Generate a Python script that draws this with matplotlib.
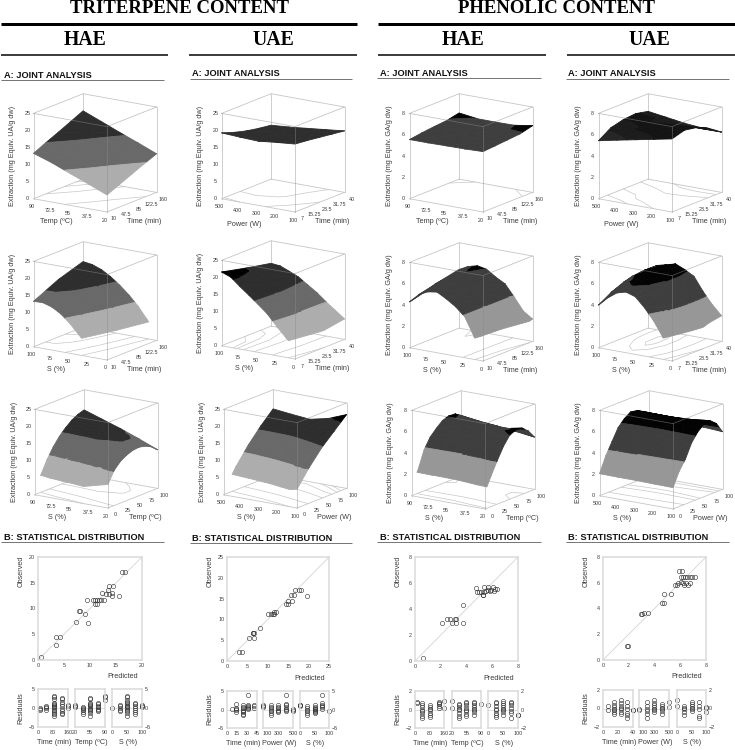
import numpy as np
import matplotlib
matplotlib.use("Agg")
import matplotlib.pyplot as plt
from matplotlib.lines import Line2D
from mpl_toolkits.mplot3d import proj3d
from mpl_toolkits.mplot3d.art3d import Poly3DCollection

W, H = 735, 750
plt.rcParams['font.family'] = ['Liberation Sans', 'DejaVu Sans']

# surfaces: rows go from the left corner to the front corner, columns from the front edge to the back
tri_hae_1 = [[13.3, 15, 16.6, 18.3, 20], [11.5, 13.2, 14.7, 16.2, 17.8], [9.3, 11, 12.5, 14, 15.6],
             [7.2, 8.8, 10.3, 11.8, 13.5], [5, 6.6, 8.2, 9.8, 11.3]]
tri_hae_2 = [[13.3, 16.8, 19.2], [13.4, 16.6, 18.8], [12.6, 15.6, 17.8], [11, 14, 16.2], [8.6, 11.8, 14.2],
             [5.7, 9.2, 11.8], [2.6, 6, 9], [-.5, 2.8, 5.5], [-3, 0, 2]]
tri_hae_3 = [[2.5, 5, 8.8, 11.8, 14.2, 16, 17.5, 18.5, 19.1], [3.2, 6.4, 9.7, 12.4, 14.5, 16, 17, 17.4, 17.3],
             [4, 7.8, 10.6, 13, 14.8, 16, 16.6, 16.3, 15.5], [5.5, 9.2, 11.7, 13.2, 14.5, 15.2, 15.3, 14.7, 13.5],
             [6.9, 10.3, 12.2, 13.3, 14, 14.2, 13.8, 12.9, 11.3]]
tri_uae_1 = [[19.3, 18, 17, 16.3, 15.8], [19, 17.8, 16.9, 16.4, 16.2], [18.8, 18, 17.3, 17, 16.8],
             [19.4, 18.8, 18.2, 17.8, 17.4], [19.9, 19.5, 19, 18.5, 18]]
tri_uae_2 = [[21.6, 19.9, 18.4], [20.6, 19.6, 18.1], [18.3, 18.4, 17], [16.2, 16.6, 15.8], [14, 14.6, 14],
             [11.7, 12.4, 12.2], [8.6, 9.8, 10], [5.8, 7.2, 8], [3, 4.8, 6]]
tri_uae_3 = [[1, 6.8, 11.7, 15.8, 19.4], [1.8, 7.6, 12, 15.8, 18.8], [2.8, 8.4, 12.6, 16, 18.3],
             [4.2, 9.4, 13.6, 17, 19.5], [5.5, 10.5, 14.8, 18.2, 21.6]]
phe_hae_1 = [[5.55, 5.72, 5.85, 5.95, 6.2], [5.55, 5.68, 5.8, 5.9, 5.97], [5.58, 5.7, 5.8, 5.88, 5.96],
             [5.6, 5.7, 5.82, 5.9, 5.98], [5.66, 5.75, 5.85, 5.95, 6.25]]
phe_hae_2 = [[4.3, 5, 5.5], [5.13, 5.63, 5.93], [5.55, 5.85, 6.15], [5.68, 5.83, 5.98], [5.2, 5.3, 5.4],
             [4.63, 4.78, 4.93], [3.85, 3.85, 3.85], [2.18, 2.48, 2.68], [.4, 1.3, 2.1]]
phe_hae_3 = [[1.3, 2.1, 3.8, 4.8, 5.4, 5.9, 6.1, 6.05, 5.7], [1.15, 2.15, 3.75, 4.75, 5.35, 5.75, 5.85, 5.8, 5.45],
             [1.1, 2.2, 3.7, 4.7, 5.3, 5.6, 5.65, 5.6, 5.3], [1.4, 2.5, 3.85, 4.9, 5.55, 5.8, 5.85, 5.6, 5.1],
             [1.6, 2.9, 4.1, 5.2, 6, 6.27, 6.2, 5.7, 4.9]]
phe_uae_1 = [[5.44, 6.2, 6.5, 6.6, 6.35], [5.8, 6.4, 6.6, 6.5, 6.1], [6.15, 6.7, 6.7, 6.25, 5.85],
             [6.5, 6.9, 6.8, 6.3, 5.7], [6.85, 7.2, 7, 6.45, 5.65]]
phe_uae_2 = [[4, 4.7, 5.2, 5.4, 5.5], [4.83, 5.5, 5.93, 6.05, 6.03], [5.45, 6, 6.35, 6.4, 6.25],
             [5.68, 6.3, 6.68, 6.65, 6.48], [5.4, 6, 6.3, 6.3, 6.1], [4.53, 5.3, 5.73, 5.75, 5.63],
             [3.45, 4.2, 4.55, 4.55, 4.35], [2.08, 2.8, 3.18, 3.3, 3.28], [.4, 1.2, 1.8, 2.2, 2.4]]
phe_uae_3 = [[2.07, 3.5, 4.6, 5.7, 6.3, 6.7, 6.6, 6.3, 5.8], [2.05, 3.45, 4.5, 5.6, 6.2, 6.6, 6.6, 6.25, 5.7],
             [2.05, 3.4, 4.4, 5.5, 6.15, 6.55, 6.6, 6.25, 5.6], [2.02, 3.35, 4.3, 5.5, 6.2, 6.65, 6.7, 6.3, 5.5],
             [2, 3.3, 4.2, 5.5, 6.3, 6.8, 6.9, 6.4, 5.4]]

# axis ticks of the surface panels
temp_down = [90, 72.5, 55, 37.5, 20]
s_down = [100, 75, 50, 25, 0]
power_down = [500, 400, 300, 200, 100]
time_hae = [10, 47.5, 85, 122.5, 160]
time_uae = [7, 15.25, 23.5, 31.75, 40]
s_up = [0, 25, 50, 75, 100]
tri_zticks = [0, 5, 10, 15, 20, 25]
phe_zticks = [0, 2, 4, 6, 8]

# predicted / observed
tri_hae_pred = [.6, 3.4, 4.2, 3.4, 7.4, 7.8, 8, 9, 9.6, 9.4, 10.5, 10.9, 11.3, 11.7, 12.2, 12.6, 11, 11.4, 12.4, 13,
                13.7, 14.4, 13.5, 13.7, 14.3, 14.3, 15.5, 16.1, 16.8]
tri_hae_obs = [.5, 4.5, 4.5, 2.9, 7.4, 9.5, 9.5, 9, 7.2, 11.6, 11.6, 11.6, 11.6, 11.6, 11.6, 11.6, 10.8, 10.8, 13, 12.9,
               14.4, 14.4, 13.5, 12.9, 13, 12.5, 12.5, 17.1, 17.1]
tri_uae_pred = [3, 3.6, 5.4, 6.5, 6.25, 6.5, 6.4, 8.2, 10.1, 10.7, 11.2, 11.6, 11.5, 12, 14.4, 15, 14.9, 16, 15.8, 16.3,
                16.7, 17.6, 18.1, 19.6]
tri_uae_obs = [2.25, 2.25, 5.6, 5.6, 6.8, 6.8, 6.8, 8, 11.25, 11.25, 11.25, 11.25, 11.7, 11.8, 13.8, 13.8, 14.5, 14.5,
               15.8, 15.8, 17.1, 17, 17, 15.7]
phe_hae_pred = [.65, 2.1, 2.45, 2.75, 2.9, 3.2, 3.1, 3.2, 3.7, 3.7, 4.7, 4.85, 5, 5.15, 5.35, 5.25, 5.3, 5.35, 5.5, 5.7,
                5.7, 5.85, 6.05, 6.15, 5.9, 6.25, 6.4]
phe_hae_obs = [.23, 2.9, 3.2, 3.2, 2.9, 2.9, 3.2, 3.2, 2.9, 4.3, 5.65, 5.3, 5.3, 5.3, 5.3, 5.05, 5.05, 5.7, 5.4, 5.5,
               5.7, 5.35, 5.7, 5.35, 5.5, 5.55, 5.55]
phe_uae_pred = [1.85, 1.95, 2.95, 3.05, 3.2, 3.5, 4.55, 4.7, 4.75, 5.25, 5.6, 5.75, 5.85, 6.05, 5.9, 6.15, 6.05, 6.25,
                6.4, 6.55, 6.75, 6.9, 7.15, 6.25, 6.45, 6.75, 6.3, 6.6]
phe_uae_obs = [1.1, 1.1, 3.55, 3.6, 3.65, 3.65, 4.45, 4.45, 5.15, 5.15, 5.8, 5.8, 6, 6.05, 6.9, 6.9, 6.45, 6.45, 6.45,
               6.45, 6.45, 6.45, 6.45, 6, 6, 6, 5.8, 5.8]

# residuals, one list per factor level
time_x_hae = [10, 40, 85, 130, 160]
time_x_uae = [7, 14, 23.5, 32, 40]
temp_x = [20, 37.5, 55, 72.5, 90]
power_x = [100, 200, 300, 400, 500]
s_x = [0, 25, 50, 75, 100]

tri_hae_res = [
    [[-.6, -.3, 0], [-.5, -.1, .2, .4], [-2.1, -1.7, -1.2, -.8, -.4, -.1, .2, .5, .8, 1, 1.4, 2.3, 2.8, 3.2],
     [-1.7, -1.2, -.8, -.3, .4, 1, 1.6, 2.3, 2.7], [.1, .4, .7]],
    [[.2, .4, .7], [-1.6, -1, -.6, -.2, .1, .3], [-2, -1.3, -.9, -.5, -.2, .1, .4, .7, 1, 1.3, 2.3, 2.7],
     [-.9, -.5, -.2, .2, .6, 1, 1.4], [2, 2.8, 3.2]],
    [[.1], [-.9, -.4, .1, .4, .7], [-2, -1.3, -.8, -.4, -.1, .2, .5, .8, 1.2, 1.6, 2.2, 2.8, 3.2],
     [-1.6, -1, -.5, 0, .5, 1, 1.3], [.2, .5, .9]]]
tri_uae_res = [
    [[.2], [-.6, -.2, .1, .5, 1.5], [-1.6, -1.2, -.8, -.4, 0, .4, .8, 1.2], [.1, .4, .7, 1, 1.2, 3.9], [.5, 1, 1.2]],
    [[.6, .9, 1.2], [-1.6, -.9, -.4, 0, .4, .8, 1.2], [-.8, -.4, 0, .4, .8, 1.2], [-.5, -.2, .2, .6, 1.1, 1.6, 3.9],
     [-.3, 0, .2]],
    [[.9, 1.1, 1.3], [-1.6, -.9, -.4, -.1, .4, .9], [-1, -.7, -.4, -.1, .1, .4, .8, 1.1], [.2, .6, 1, 1.3, 1.7, 3.9],
     [-.4]]]
phe_hae_res = [
    [[.7, .8], [-.9, -.7, -.4, -.2, 0, .3, .5, .7], [-.8, -.6, -.4, -.1, .1, .3, .5], [.2, .4, .6, .7, .85], [.2, .9]],
    [[.2, .9], [-.9, -.7, -.4, -.1, .1, .3, .5, .6], [-.7, -.5, -.2, 0, .2, .5, .7, .8],
     [-.6, -.3, -.1, .1, .3, .5, .7, .85], [.55]],
    [[.45], [-.8, -.6, -.4, -.1, .1, .4, .7, .8], [-.6, -.3, -.1, .1, .3, .5, .7, .9], [-.9, -.4, -.2, .2, .5, .7, .85],
     [-.6, -.55]]]
phe_uae_res = [
    [[-.2, .3], [-.6, -.4, -.2, 0, .2, .4, .7], [-.6, -.4, -.1, .1, .3, .6, .9], [-1, -.7, -.5, -.1, .3, .7],
     [-.2, -.15]],
    [[-.2, -.1], [-1, -.6, -.3, 0, .3, .7], [-.4, -.2, 0, .2, .4, .6, .9], [-.6, -.3, -.1, .1, .3, .5], [.2, .7]],
    [[.3, .9], [-.7, -.4, -.1, .1, .3], [-.3, -.1, .1, .3, .5, .7], [-1, -.8, -.1, .3, .7], [-.4, .1, .2]]]

TRI_BANDS = [(5, 10, '#adadad'), (10, 15, '#696969'), (15, 20, '#2e2e2e'), (20, 30, '#000000')]
PHE_BANDS = [(2, 4, '#979797'), (4, 6, '#3e3e3e'), (6, 9, '#030303')]
PHE_TOP_BANDS = [(4, 6, '#262626'), (6, 6.5, '#1c1c1c'), (6.5, 9, '#141414')]
TRI_STYLE = dict(zmax=25, zticks=tri_zticks, bands=TRI_BANDS, contours=[5, 10, 15, 17.5, 19, 20],
                 ylabel='Extraction (mg Equiv. UA/g dw)')
PHE_STYLE = dict(zmax=8, zticks=phe_zticks, bands=PHE_BANDS, contours=[2, 4, 6, 6.5],
                 ylabel='Extraction (mg Equiv. GA/g dw)')

fig = plt.figure(figsize=(W / 100, H / 100), dpi=100)


def fx(x):
    return x / W


def fy(y):
    return 1 - y / H


def hline(x0, x1, y, color, px):
    fig.add_artist(Line2D([fx(x0), fx(x1)], [fy(y), fy(y)], color=color, lw=px * .72, solid_capstyle='butt'))


def clip_band(tri, lo, hi):
    # cut one triangle of the surface down to the part between two heights
    for limit, sign in ((lo, 1), (hi, -1)):
        out = []
        for i in range(len(tri)):
            a, b = tri[i], tri[(i + 1) % len(tri)]
            da, db = sign * (a[2] - limit), sign * (b[2] - limit)
            if da >= 0:
                out.append(a)
            if da * db < 0:
                t = da / (da - db)
                out.append(tuple(a[k] + t * (b[k] - a[k]) for k in range(3)))
        tri = out
        if not tri:
            return []
    return tri


def surface_panel(front, z_rows, style, uticks, vticks, ulabel, vlabel, bands=None):
    Z = np.array(z_rows, dtype=float)
    ax = fig.add_axes([0, 0, 280 / W, 280 / H], projection='3d', proj_type='ortho')
    ax.computed_zorder = False
    ax.patch.set_visible(False)
    ax.set_axis_off()
    ax.view_init(elev=15.5, azim=34)
    ax.set_box_aspect((1, 1, 1), zoom=1)
    ax.set_xlim(vticks[-1], vticks[0])
    ax.set_ylim(uticks[0], uticks[-1])
    ax.set_zlim(0, style['zmax'])

    u0, u1, v0, v1, zt = uticks[0], uticks[-1], vticks[0], vticks[-1], style['zmax']

    def to_px(x, y, z):
        a, b, _ = proj3d.proj_transform(x, y, z, ax.get_proj())
        p = ax.transData.transform((a, b))
        return p[0], H - p[1]

    # scale and move the axes so the box lands on its place in the figure
    ax.apply_aspect()
    width = to_px(v0, u0, 0)[0] - to_px(v1, u1, 0)[0]
    ax.set_box_aspect((1, 1, 1), zoom=123 / abs(width))
    ax.apply_aspect()
    fpx = to_px(v0, u1, 0)
    ax.set_position([(front[0] - fpx[0]) / W, (fpx[1] - front[1]) / H, 280 / W, 280 / H])
    ax.apply_aspect()

    vals_v = np.linspace(v0, v1, Z.shape[1])
    vals_u = np.linspace(u0, u1, Z.shape[0])
    X, Y = np.meshgrid(vals_v, vals_u)

    back = [((v1, u0, 0), (v1, u0, zt)), ((v1, u0, 0), (v0, u0, 0)), ((v1, u0, 0), (v1, u1, 0)),
            ((v1, u0, zt), (v0, u0, zt)), ((v1, u0, zt), (v1, u1, zt)), ((v0, u0, 0), (v0, u0, zt)),
            ((v1, u1, 0), (v1, u1, zt)), ((v0, u0, 0), (v0, u1, 0)), ((v1, u1, 0), (v0, u1, 0))]
    fronts = [((v0, u1, 0), (v0, u1, zt)), ((v0, u0, zt), (v0, u1, zt)), ((v1, u1, zt), (v0, u1, zt))]
    for a, b in back:
        ax.plot(*zip(a, b), color='#c6c6c6', lw=.6, zorder=1)

    levels = [l for l in style['contours'] if Z.min() < l < Z.max()]
    if levels:
        ax.contour(X, Y, Z, levels=levels, zdir='z', offset=0, colors='#c2c2c2', linewidths=.45, zorder=1.5)

    polys, colors = [], []
    for i in range(Z.shape[0] - 1):
        for j in range(Z.shape[1] - 1):
            p = [(X[i + a, j + b], Y[i + a, j + b], Z[i + a, j + b]) for a, b in ((0, 0), (0, 1), (1, 1), (1, 0))]
            for tri in ([p[0], p[1], p[2]], [p[0], p[2], p[3]]):
                for lo, hi, col in (bands or style['bands']):
                    piece = clip_band(tri, lo, hi)
                    if len(piece) >= 3:
                        polys.append(piece)
                        colors.append(col)
    coll = Poly3DCollection(polys, facecolors=colors, edgecolors=colors, linewidths=.6, zsort='average', zorder=2)
    ax.add_collection3d(coll, autolim=False)

    for a, b in fronts:
        ax.plot(*zip(a, b), color='#8c8c8c', lw=.55, alpha=.55, zorder=3)
    ax.set_xlim(v1, v0)
    ax.set_ylim(u0, u1)
    ax.set_zlim(0, zt)

    tick_kw = dict(fontsize=3.9, color='#3c3c3c', ha='center', va='center')
    for t in style['zticks']:
        p = to_px(v0, u0, t)
        fig.text(fx(p[0] - 6), fy(p[1]), str(t), **tick_kw)
    for t in uticks:
        p = to_px(v0, t, 0)
        fig.text(fx(p[0] - 2), fy(p[1] + 8), str(t), **tick_kw)
    for t in vticks:
        p = to_px(t, u1, 0)
        fig.text(fx(p[0] + 7), fy(p[1] + 7), str(t), **tick_kw)

    lab_kw = dict(fontsize=5.2, color='#3c3c3c', ha='center', va='center')
    fig.text(fx(front[0] - 51), fy(front[1] + (12.5 if ulabel == 'Power (W)' else 9.5)), ulabel, **lab_kw)
    fig.text(fx(front[0] + 37), fy(front[1] + 9.5), vlabel, **lab_kw)
    fig.text(fx(front[0] - 94), fy(front[1] - 56), style['ylabel'], rotation=90, **lab_kw)


def scatter_panel(box, pred, obs, lim, ticks):
    x0, x1, y0, y1 = box
    ax = fig.add_axes([fx(x0), fy(y1), (x1 - x0) / W, (y1 - y0) / H])
    ax.plot([0, lim], [0, lim], color='#d4d4d4', lw=.6)
    ax.plot(pred, obs, 'o', mfc='none', mec='#2f2f2f', mew=.4, ms=3.1, clip_on=False)
    ax.set_xlim(0, lim)
    ax.set_ylim(0, lim)
    ax.set_xticks(ticks)
    ax.set_yticks(ticks)
    ax.tick_params(length=0, labelsize=3.9, labelcolor='#3c3c3c', pad=2)
    for sp in ax.spines.values():
        sp.set_color('#dadada')
        sp.set_linewidth(1.1)
    fig.text(fx(x0 - 17), fy(y0 + 14), 'Observed', rotation=90, fontsize=5.2, color='#3c3c3c', ha='center', va='center')
    fig.text(fx(x1 - 19), fy(y1 + 17), 'Predicted', fontsize=5.2, color='#3c3c3c', ha='center', va='center')


def residual_strip(box, level_x, res, xlim, xticks, ylim, yticks, side, label):
    x0, x1, y0, y1 = box
    ax = fig.add_axes([fx(x0), fy(y1), (x1 - x0) / W, (y1 - y0) / H])
    xs = [lx for lx, r in zip(level_x, res) for _ in r]
    ys = [v for r in res for v in r]
    ax.axhline(0, color='#d8d8d8', lw=.6)
    ax.plot(xs, ys, 'o', mfc='none', mec='#2f2f2f', mew=.4, ms=3.1, clip_on=False)
    ax.set_xlim(*xlim)
    ax.set_ylim(-ylim, ylim)
    ax.set_xticks(xticks)
    ax.set_yticks(yticks if side else [])
    if side == 'right':
        ax.yaxis.tick_right()
    ax.tick_params(length=0, labelsize=3.9, labelcolor='#3c3c3c', pad=2)
    # the first label of a strip must clear the last label of the strip before it
    if xticks[0] >= 100:
        ax.get_xticklabels()[0].set_ha('left')
    for sp in ax.spines.values():
        sp.set_color('#dadada')
        sp.set_linewidth(1.1)
    fig.text(fx((x0 + x1) / 2 + 1), fy(y1 + 15.5), label, fontsize=5.2, color='#3c3c3c', ha='center', va='center')


# headers
fig.text(fx(179), fy(8.5), 'TRITERPENE CONTENT', family='Liberation Serif', weight='bold', fontsize=13.5,
         ha='center', va='center')
fig.text(fx(556), fy(8.5), 'PHENOLIC CONTENT', family='Liberation Serif', weight='bold', fontsize=13.5,
         ha='center', va='center')
hline(1, 357, 23.5, 'black', 3)
hline(378, 735, 23.5, 'black', 3)
for xc, name in ((85, 'HAE'), (273, 'UAE'), (463, 'HAE'), (649, 'UAE')):
    fig.text(fx(xc), fy(40), name, family='Liberation Serif', weight='bold', fontsize=14.2, ha='center', va='center')
for a, b in ((1, 168), (189, 357), (378, 546), (567, 735)):
    hline(a, b, 54.5, 'black', 1.5)

sections = [(4, 1, 164, 75, 80, 538, 542), (192, 190, 352, 74, 79, 538.5, 543),
            (380, 377, 541, 73, 77.5, 538, 542), (568, 566, 729, 74, 79, 537.5, 542)]
for tx, a, b, ya, la, yb, lb in sections:
    fig.text(fx(tx), fy(ya), 'A: JOINT ANALYSIS', weight='bold', fontsize=6.7, color='#111111', va='center')
    hline(a, b, la, '#777777', 1)
    fig.text(fx(tx), fy(yb), 'B: STATISTICAL DISTRIBUTION', weight='bold', fontsize=6.7, color='#111111', va='center')
    hline(a, b, lb, '#777777', 1)

# surface panels
T, P, S, TI = 'Temp (ºC)', 'Power (W)', 'S (%)', 'Time (min)'
surface_panel((107, 212), tri_hae_1, TRI_STYLE, temp_down, time_hae, T, TI)
surface_panel((107, 360), tri_hae_2, TRI_STYLE, s_down, time_hae, S, TI)
surface_panel((108, 508), tri_hae_3, TRI_STYLE, temp_down, s_up, S, T)
surface_panel((295, 212), tri_uae_1, TRI_STYLE, power_down, time_uae, P, TI)
surface_panel((295, 359), tri_uae_2, TRI_STYLE, s_down, time_uae, S, TI)
surface_panel((297, 508), tri_uae_3, TRI_STYLE, power_down, s_up, S, P)
surface_panel((483, 212), phe_hae_1, PHE_STYLE, temp_down, time_hae, T, TI)
surface_panel((483, 361), phe_hae_2, PHE_STYLE, s_down, time_hae, S, TI)
surface_panel((485, 509), phe_hae_3, PHE_STYLE, temp_down, s_up, S, T)
surface_panel((672, 212), phe_uae_1, PHE_STYLE, power_down, time_uae, P, TI, bands=PHE_TOP_BANDS)
surface_panel((672, 361), phe_uae_2, PHE_STYLE, s_down, time_uae, S, TI)
surface_panel((673, 509), phe_uae_3, PHE_STYLE, power_down, s_up, S, P)

# statistical panels
scatter_panel((38, 142, 557, 660), tri_hae_pred, tri_hae_obs, 20, [0, 5, 10, 15, 20])
scatter_panel((227, 329, 557, 661), tri_uae_pred, tri_uae_obs, 25, [0, 5, 10, 15, 20, 25])
scatter_panel((415, 518, 557, 661), phe_hae_pred, phe_hae_obs, 8, [0, 2, 4, 6, 8])
scatter_panel((603, 706, 557, 660), phe_uae_pred, phe_uae_obs, 8, [0, 2, 4, 6, 8])

time_hae_spec = (time_x_hae, (0, 160), [0, 80, 160], TI)
temp_spec = (temp_x, (20, 90), [20, 55, 90], T)
s_spec = (s_x, (0, 100), [0, 50, 100], S)
power_spec = (power_x, (100, 500), [100, 300, 500], P)

strips = [
    (tri_hae_res, 689, 727, [(38, 68), (75, 105), (112, 142)], 5, [-5, 0, 5],
     [time_hae_spec, temp_spec, s_spec]),
    (tri_uae_res, 691, 728, [(227, 257), (263, 293), (300, 329)], 5, [-5, 0, 5],
     [(time_x_uae, (0, 45), [0, 15, 30, 45], TI), power_spec, s_spec]),
    (phe_hae_res, 691, 728, [(415, 444), (452, 481), (488, 518)], 2, [-2, 0, 2],
     [time_hae_spec, temp_spec, s_spec]),
    (phe_uae_res, 690, 727, [(603, 633), (639, 669), (677, 706)], 2, [-2, 0, 2],
     [(time_x_uae, (0, 40), [0, 20, 40], TI), power_spec, s_spec]),
]
for res, top, bottom, xboxes, ylim, yticks, specs in strips:
    for k, ((a, b), r, spec) in enumerate(zip(xboxes, res, specs)):
        side = {0: 'left', 2: 'right'}.get(k)
        residual_strip((a, b, top, bottom), spec[0], r, spec[1], spec[2], ylim, yticks, side, spec[3])
    fig.text(fx(xboxes[0][0] - 17), fy((top + bottom) / 2), 'Residuals', rotation=90, fontsize=5.2, color='#3c3c3c',
             ha='center', va='center')

fig.savefig('out.png', dpi=100)
